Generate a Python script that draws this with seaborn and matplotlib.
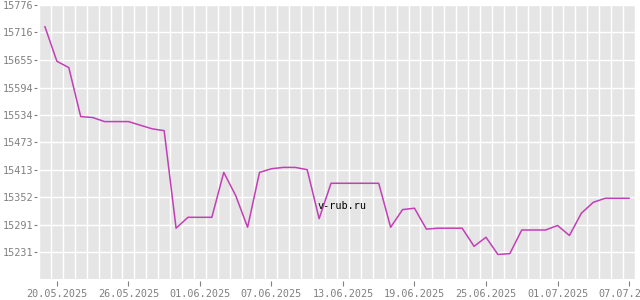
import numpy as np
import pandas as pd
import matplotlib
matplotlib.use("Agg")
import matplotlib.pyplot as plt
import seaborn as sns

# daily rate values, 19.05.2025 .. 07.07.2025
start = "2025-05-19"
rates = [15728, 15652, 15638, 15530, 15528, 15519, 15519, 15519, 15511, 15503,
         15499, 15284, 15308, 15308, 15308, 15407, 15356, 15286, 15407, 15415,
         15418, 15418, 15413, 15305, 15383, 15383, 15383, 15383, 15383, 15286,
         15325, 15328, 15282, 15284, 15284, 15284, 15244, 15264, 15226, 15228,
         15280, 15280, 15280, 15290, 15268, 15317, 15341, 15350, 15350, 15350]
yticks = [15231, 15291, 15352, 15413, 15473, 15534, 15594, 15655, 15716, 15776]

dates = pd.date_range(start, periods=len(rates), freq="D")
df = pd.DataFrame({"date": dates, "rate": rates})

px = 72 / 100  # points per pixel

fig = plt.figure(figsize=(6.4, 3.0), dpi=100)
ax = fig.add_axes([39/640, 21/300, 596/640, 274/300])
ax.set_facecolor("#e5e5e5")

sns.lineplot(data=df, x="date", y="rate", ax=ax, color="#c23fb5", linewidth=1.1)

ax.set_ylim(15172, 15776)
ax.set_xlim(dates[0] - pd.Timedelta(hours=8), dates[-1] + pd.Timedelta(hours=10))
ax.set_yticks(yticks)
ax.set_yticklabels([str(v) for v in yticks])

major = pd.date_range("2025-05-20", "2025-07-07", freq="6D")
ax.set_xticks(major)
ax.set_xticklabels([d.strftime("%d.%m.%Y") for d in major])
minor = pd.date_range(dates[0] - pd.Timedelta(days=1), dates[-1], freq="D") + pd.Timedelta(hours=12)
ax.set_xticks(minor, minor=True)
ax.tick_params(axis="x", which="minor", length=0)

ax.grid(True, which="minor", axis="x", color="white", linewidth=1.0)
ax.grid(True, which="major", axis="y", color="white", linewidth=1.0)
ax.grid(False, which="major", axis="x")
ax.set_axisbelow(True)

for s in ax.spines.values():
    s.set_visible(False)
ax.spines["left"].set_position(("outward", 2 * px))
ax.spines["bottom"].set_position(("outward", 2 * px))
ax.tick_params(axis="y", which="major", colors="#808080", labelcolor="#808080",
               labelsize=7.3, length=3 * px, width=0.8, pad=1 * px)
ax.tick_params(axis="x", which="major", colors="#808080", labelcolor="#808080",
               labelsize=7.3, length=5 * px, width=0.8, pad=3 * px)
for lab in ax.get_xticklabels() + ax.get_yticklabels():
    lab.set_fontfamily("DejaVu Sans Mono")
ax.set_xlabel("")
ax.set_ylabel("")

ax.text(0.508, 0.265, "v-rub.ru", transform=ax.transAxes, ha="center", va="center",
        fontsize=7.3, family="DejaVu Sans Mono", color="black")

fig.savefig("out.png", dpi=100)
